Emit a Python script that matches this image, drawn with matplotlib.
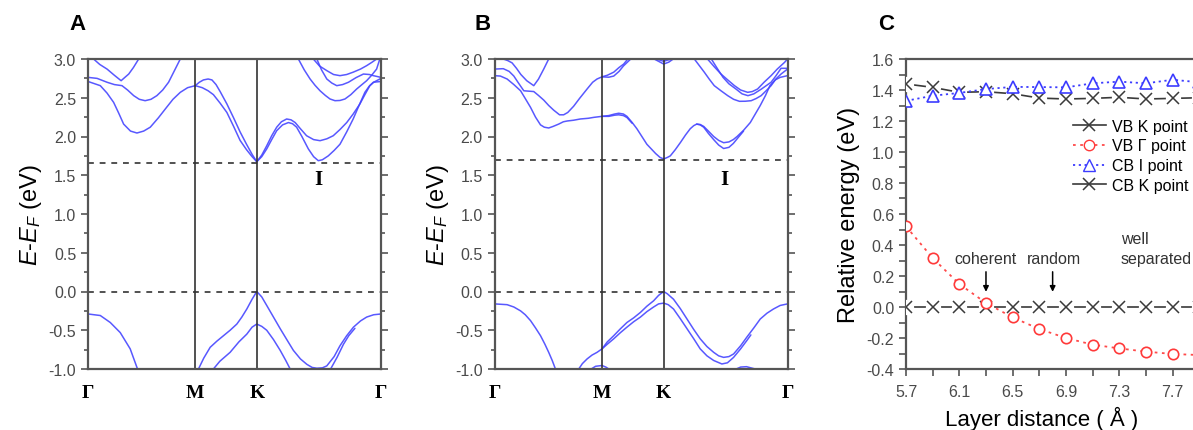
import matplotlib
matplotlib.use('Agg')
import matplotlib.pyplot as plt
from matplotlib.lines import Line2D
from matplotlib.ticker import MultipleLocator, FormatStrFormatter

plt.rcParams['font.family'] = ['Liberation Sans', 'DejaVu Sans']
plt.rcParams['mathtext.fontset'] = 'custom'
plt.rcParams['mathtext.rm'] = 'Liberation Sans'
plt.rcParams['mathtext.it'] = 'Liberation Sans:italic'

# high-symmetry points (fraction of path length)
kpts = [0.0, 0.366, 0.577, 1.0]
klabels = ['Γ', 'M', 'K', 'Γ']

# ---- panel A bands, (k, E) ----
a_vb1 = [(0, -0.29), (0.042, -0.31), (0.076, -0.40), (0.110, -0.53), (0.144, -0.74), (0.169, -1.0)]
a_vb2 = [(0.377, -1.0), (0.395, -0.86), (0.417, -0.72), (0.44, -0.64), (0.4625, -0.57), (0.485, -0.50),
         (0.508, -0.42), (0.525, -0.33), (0.542, -0.226), (0.56, -0.10), (0.576, 0.0), (0.593, -0.07),
         (0.610, -0.18), (0.633, -0.33), (0.656, -0.48), (0.68, -0.63), (0.701, -0.76), (0.725, -0.87),
         (0.747, -0.94), (0.765, -0.98), (0.781, -0.99), (0.80, -0.985), (0.815, -0.96), (0.84, -0.84),
         (0.860, -0.70), (0.883, -0.57), (0.906, -0.46), (0.93, -0.38), (0.951, -0.33), (0.975, -0.30),
         (1.0, -0.29)]
a_vb3 = [(0.828, -1.0), (0.85, -0.85), (0.872, -0.68), (0.89, -0.57), (0.911, -0.475)]
a_vb4 = [(0.428, -1.0), (0.45, -0.9), (0.485, -0.785), (0.515, -0.65), (0.542, -0.55), (0.56, -0.46),
         (0.576, -0.42), (0.593, -0.45), (0.61, -0.50), (0.633, -0.62), (0.656, -0.76), (0.675, -0.89),
         (0.69, -1.0)]
a_cb1 = [(0, 2.71), (0.042, 2.656), (0.065, 2.56), (0.0875, 2.44), (0.105, 2.30), (0.1216, 2.16),
         (0.145, 2.07), (0.167, 2.045), (0.19, 2.07), (0.2125, 2.12), (0.24, 2.24), (0.269, 2.38),
         (0.29, 2.48), (0.315, 2.57), (0.34, 2.63), (0.366, 2.656)]
a_cb2 = [(0, 2.763), (0.031, 2.75), (0.065, 2.70), (0.09, 2.67), (0.116, 2.656), (0.135, 2.60),
         (0.156, 2.527), (0.175, 2.48), (0.195, 2.462), (0.215, 2.48), (0.235, 2.527), (0.255, 2.60),
         (0.275, 2.70), (0.295, 2.85), (0.315, 3.0)]
a_cb3 = [(0.019, 3.0), (0.04, 2.93), (0.065, 2.87), (0.09, 2.79), (0.113, 2.72), (0.125, 2.76),
         (0.139, 2.806), (0.155, 2.89), (0.173, 3.0)]
a_cb4 = [(0.366, 2.656), (0.38, 2.70), (0.394, 2.73), (0.41, 2.742), (0.423, 2.73), (0.437, 2.67),
         (0.451, 2.58), (0.474, 2.42), (0.497, 2.24), (0.519, 2.06), (0.541, 1.90), (0.56, 1.77),
         (0.576, 1.675)]
a_cb5 = [(0.366, 2.656), (0.39, 2.63), (0.41, 2.59), (0.428, 2.54), (0.451, 2.43), (0.474, 2.31),
         (0.497, 2.13), (0.519, 1.95), (0.541, 1.83), (0.56, 1.74), (0.576, 1.675)]
a_cb6 = [(0.576, 1.675), (0.593, 1.76), (0.610, 1.88), (0.627, 2.01), (0.644, 2.12), (0.66, 2.19),
         (0.678, 2.226), (0.693, 2.215), (0.707, 2.18), (0.725, 2.10), (0.746, 2.01), (0.77, 1.96),
         (0.792, 1.946), (0.815, 1.97), (0.837, 2.01), (0.86, 2.09), (0.883, 2.18), (0.905, 2.29),
         (0.928, 2.42), (0.945, 2.54), (0.962, 2.656), (0.975, 2.70), (0.985, 2.72), (1.0, 2.75)]
a_cb7 = [(0.576, 1.675), (0.593, 1.74), (0.610, 1.84), (0.627, 1.96), (0.644, 2.075), (0.664, 2.15),
         (0.684, 2.18), (0.698, 2.165), (0.712, 2.12), (0.73, 2.0), (0.752, 1.84), (0.77, 1.74),
         (0.786, 1.688), (0.80, 1.70), (0.820, 1.75), (0.84, 1.82), (0.860, 1.90), (0.883, 2.06),
         (0.905, 2.226), (0.925, 2.40), (0.945, 2.57), (0.96, 2.65), (0.974, 2.70), (1.0, 2.71)]
a_cb8 = [(0.718, 3.0), (0.738, 2.86), (0.758, 2.742), (0.775, 2.66), (0.792, 2.59), (0.81, 2.53),
         (0.826, 2.484), (0.843, 2.462), (0.86, 2.465), (0.877, 2.484), (0.897, 2.54), (0.917, 2.613),
         (0.935, 2.67), (0.951, 2.72), (0.968, 2.79), (0.985, 2.87), (0.996, 3.0)]
a_cb9 = [(0.769, 3.0), (0.79, 2.91), (0.815, 2.85), (0.838, 2.80), (0.860, 2.785), (0.883, 2.80),
         (0.905, 2.83), (0.93, 2.87), (0.951, 2.914), (0.97, 2.96), (0.985, 3.0)]
a_cb10 = [(0.781, 3.0), (0.797, 2.86), (0.815, 2.742), (0.832, 2.69), (0.849, 2.656), (0.869, 2.67),
          (0.889, 2.70), (0.915, 2.76), (0.940, 2.806), (0.96, 2.80), (0.974, 2.785), (1.0, 2.763)]

# ---- panel B bands ----
b_vb1 = [(0, -0.16), (0.043, -0.17), (0.066, -0.20), (0.089, -0.25), (0.105, -0.30), (0.123, -0.376),
         (0.14, -0.47), (0.157, -0.57), (0.172, -0.68), (0.185, -0.785), (0.197, -0.89), (0.208, -1.0)]
b_vb2 = [(0.2875, -1.0), (0.30, -0.93), (0.316, -0.87), (0.333, -0.82), (0.35, -0.785), (0.367, -0.74),
         (0.385, -0.65), (0.407, -0.57), (0.43, -0.48), (0.452, -0.40), (0.475, -0.34), (0.498, -0.27),
         (0.52, -0.19), (0.543, -0.12), (0.56, -0.05), (0.5775, 0.0), (0.59, -0.03), (0.611, -0.10),
         (0.634, -0.22), (0.657, -0.355), (0.68, -0.49), (0.702, -0.61), (0.725, -0.71), (0.748, -0.785),
         (0.765, -0.83), (0.782, -0.85), (0.80, -0.84), (0.816, -0.806), (0.84, -0.70), (0.861, -0.59),
         (0.885, -0.47), (0.907, -0.355), (0.93, -0.28), (0.952, -0.226), (0.975, -0.18), (1.0, -0.16)]
b_vb3 = [(0.367, -0.74), (0.385, -0.68), (0.407, -0.61), (0.43, -0.53), (0.452, -0.46), (0.475, -0.39),
         (0.498, -0.33), (0.52, -0.26), (0.543, -0.20), (0.56, -0.16), (0.5775, -0.15), (0.593, -0.17),
         (0.611, -0.226), (0.634, -0.35), (0.657, -0.48), (0.68, -0.61), (0.702, -0.74), (0.725, -0.83),
         (0.748, -0.89), (0.776, -0.935), (0.795, -0.92), (0.816, -0.85), (0.84, -0.74), (0.861, -0.634),
         (0.875, -0.56)]
b_vb4 = [(0.33, -1.0), (0.345, -0.965), (0.367, -0.955), (0.38, -0.975), (0.39, -1.0)]
b_vb5 = [(0.825, -1.0), (0.84, -0.975), (0.86, -0.97), (0.875, -0.985), (0.89, -1.0)]
b_cb1 = [(0, 2.785), (0.02, 2.78), (0.043, 2.742), (0.066, 2.67), (0.089, 2.59), (0.105, 2.49),
         (0.123, 2.376), (0.14, 2.25), (0.157, 2.15), (0.17, 2.12), (0.185, 2.11), (0.20, 2.13),
         (0.219, 2.16), (0.235, 2.19), (0.248, 2.20), (0.27, 2.21), (0.293, 2.226), (0.32, 2.235),
         (0.339, 2.247), (0.367, 2.26), (0.39, 2.27), (0.41, 2.29), (0.424, 2.30), (0.44, 2.29),
         (0.452, 2.26), (0.47, 2.18), (0.486, 2.10), (0.503, 2.00), (0.52, 1.90), (0.535, 1.84),
         (0.55, 1.78), (0.565, 1.73), (0.5775, 1.71)]
b_cb1b = [(0.367, 2.26), (0.39, 2.26), (0.41, 2.275), (0.424, 2.28), (0.44, 2.27), (0.452, 2.245),
          (0.47, 2.17)]
b_cb2 = [(0, 2.87), (0.03, 2.875), (0.05, 2.84), (0.066, 2.78), (0.08, 2.70), (0.10, 2.59),
         (0.134, 2.58), (0.15, 2.53), (0.168, 2.47), (0.185, 2.40), (0.202, 2.34), (0.222, 2.28),
         (0.236, 2.28), (0.25, 2.31), (0.27, 2.39), (0.29, 2.49), (0.316, 2.613), (0.335, 2.70),
         (0.35, 2.742), (0.367, 2.77), (0.385, 2.79), (0.407, 2.83), (0.425, 2.89), (0.441, 2.935),
         (0.455, 3.0)]
b_cb2b = [(0.367, 2.77), (0.39, 2.765), (0.407, 2.78), (0.425, 2.84), (0.44, 2.91), (0.465, 3.0)]
b_cb3 = [(0.03, 3.0), (0.045, 2.98), (0.06, 2.95), (0.075, 2.88), (0.09, 2.80), (0.11, 2.72),
         (0.134, 2.656), (0.15, 2.74), (0.168, 2.87), (0.185, 3.0)]
b_cb4 = [(0.5775, 1.71), (0.59, 1.73), (0.60, 1.75), (0.617, 1.83), (0.635, 1.925), (0.652, 2.02),
         (0.668, 2.10), (0.68, 2.14), (0.69, 2.16), (0.702, 2.155), (0.714, 2.13), (0.73, 2.07),
         (0.748, 2.0), (0.765, 1.95), (0.782, 1.92), (0.80, 1.93), (0.815, 1.96), (0.828, 2.0),
         (0.85, 2.08), (0.873, 2.18), (0.89, 2.29), (0.907, 2.40), (0.925, 2.53), (0.94, 2.656),
         (0.958, 2.73), (0.975, 2.763), (1.0, 2.785)]
b_cb5 = [(0.69, 2.16), (0.702, 2.15), (0.714, 2.12), (0.73, 2.04), (0.748, 1.96), (0.765, 1.89),
         (0.782, 1.845), (0.80, 1.86), (0.815, 1.91), (0.828, 1.97), (0.85, 2.07)]
b_cb6 = [(0.682, 3.0), (0.70, 2.91), (0.716, 2.83), (0.733, 2.74), (0.75, 2.656), (0.773, 2.59),
         (0.796, 2.527), (0.816, 2.48), (0.836, 2.454), (0.856, 2.455), (0.876, 2.462), (0.893, 2.49),
         (0.91, 2.527), (0.927, 2.59), (0.944, 2.656), (0.96, 2.74), (0.978, 2.806), (1.0, 2.87)]
b_cb7 = [(0.727, 3.0), (0.75, 2.90), (0.773, 2.806), (0.796, 2.73), (0.819, 2.656), (0.84, 2.60),
         (0.864, 2.57), (0.88, 2.58), (0.898, 2.613), (0.92, 2.70), (0.944, 2.785), (0.965, 2.87),
         (0.99, 2.957), (1.0, 3.0)]
b_cb8 = [(0.74, 3.0), (0.76, 2.88), (0.78, 2.763), (0.80, 2.68), (0.825, 2.61), (0.845, 2.55),
         (0.865, 2.527), (0.885, 2.55), (0.91, 2.61), (0.944, 2.70), (0.96, 2.78), (0.978, 2.88),
         (1.0, 2.88)]
b_cb9 = [(0.545, 3.0), (0.56, 2.97), (0.5775, 2.935), (0.595, 2.96), (0.61, 3.0)]
b_cb10 = [(0.55, 3.0), (0.565, 2.985), (0.5775, 2.97), (0.59, 2.985), (0.605, 3.0)]

a_gap = 1.66   # CBM level in A
b_gap = 1.70   # CBM level in B

# ---- panel C ----
layer_d = [5.7, 5.9, 6.1, 6.3, 6.5, 6.7, 6.9, 7.1, 7.3, 7.5, 7.7, 7.9]
vb_k = [0.0] * 12
vb_gamma = [0.52, 0.316, 0.148, 0.026, -0.067, -0.142, -0.20, -0.243, -0.267, -0.288, -0.303, -0.31]
cb_i = [1.33, 1.363, 1.381, 1.406, 1.42, 1.419, 1.417, 1.443, 1.454, 1.443, 1.466, 1.45]
cb_k = [1.439, 1.417, 1.385, 1.389, 1.376, 1.348, 1.342, 1.346, 1.353, 1.342, 1.346, 1.35]
c_xticks = [5.7, 6.1, 6.5, 6.9, 7.3, 7.7, 8.1]

W, H = 1193, 431
fig = plt.figure(figsize=(W / 100, H / 100), dpi=100)

blue = '#4646ff'
dark = '#333333'
tick_c = '#4a4a4a'


def px(l, b, w, h):
    return [l / W, 1 - (b + h) / H, w / W, h / H]


def band_panel(ax, bands, gap):
    for band in bands:
        ks = [p[0] for p in band]
        es = [p[1] for p in band]
        ax.plot(ks, es, color=blue, lw=1.1, alpha=0.9, solid_capstyle='round')
    for k in kpts[1:3]:
        ax.axvline(k, color=dark, lw=1.2)
    for e in (0.0, gap):
        ax.axhline(e, color=dark, lw=1.2, ls=(0, (3.5, 3.5)))
    ax.set_xlim(0, 1)
    ax.set_ylim(-1, 3)
    ax.set_xticks(kpts)
    ax.set_xticklabels(klabels, family='Liberation Serif', fontweight='bold', fontsize=14)
    ax.tick_params(axis='x', length=0, pad=11, colors='black')
    ax.yaxis.set_major_locator(MultipleLocator(0.5))
    ax.yaxis.set_minor_locator(MultipleLocator(0.25))
    ax.yaxis.set_major_formatter(FormatStrFormatter('%.1f'))
    ax.tick_params(axis='y', which='both', direction='out', right=True, color='#555555',
                   labelsize=11.5, labelcolor=tick_c, width=1.2)
    ax.tick_params(axis='y', which='major', length=5)
    ax.tick_params(axis='y', which='minor', length=3)
    for s in ax.spines.values():
        s.set_color('#555555')
        s.set_linewidth(1.6)
    ax.set_ylabel(r'$E$-$E_F$ (eV)', fontsize=17, labelpad=3)
    ax.text(0.785, 1.45, 'I', family='Liberation Serif', fontweight='bold', fontsize=15,
            ha='center', va='center')


ax_a = fig.add_axes(px(88, 60, 293, 310))
band_panel(ax_a, [a_vb1, a_vb2, a_vb3, a_vb4, a_cb1, a_cb2, a_cb3, a_cb4, a_cb5, a_cb6,
                  a_cb7, a_cb8, a_cb9, a_cb10], a_gap)
ax_b = fig.add_axes(px(494.5, 60, 293, 310))
band_panel(ax_b, [b_vb1, b_vb2, b_vb3, b_vb4, b_vb5, b_cb1, b_cb1b, b_cb2, b_cb2b, b_cb3,
                  b_cb4, b_cb5, b_cb6, b_cb7, b_cb8, b_cb9, b_cb10], b_gap)

# panel C, its right side runs off the figure like in the original
x_per = 133.3   # pixels per Angstrom
ax_c = fig.add_axes(px(906, 60, 2.6 * x_per, 310))
gray = '#3a3a3a'
for ys in (vb_k, cb_k):
    ax_c.plot(layer_d, ys, '-', color=gray, lw=1.2, zorder=2)
    ax_c.plot(layer_d, ys, 'o', ms=11, mfc='white', mec='none', zorder=3)
    ax_c.plot(layer_d, ys, 'x', ms=8, mew=1.1, color=gray, zorder=4)
ax_c.plot(layer_d, vb_gamma, ls=(0, (1.5, 2.5)), color='#ff4a4a', lw=1.3, marker='o', ms=7.5,
          mfc='white', mec='#ff3a3a', mew=1.2, zorder=5)
ax_c.plot(layer_d, cb_i, ls=(0, (1.2, 2.0)), color='#3c3cff', lw=1.3, marker='^', ms=8,
          mfc='white', mec='#3c3cff', mew=1.2, zorder=5)

ax_c.set_xlim(5.7, 8.3)
ax_c.set_ylim(-0.4, 1.6)
ax_c.set_xticks(c_xticks)
# the last label would fall past the edge of the picture
ax_c.set_xticklabels(['%.1f' % v for v in c_xticks[:-1]] + [''])
ax_c.set_xticks([5.9, 6.3, 6.7, 7.1, 7.5, 7.9], minor=True)
ax_c.yaxis.set_major_locator(MultipleLocator(0.2))
ax_c.yaxis.set_minor_locator(MultipleLocator(0.1))
ax_c.yaxis.set_major_formatter(FormatStrFormatter('%.1f'))
ax_c.tick_params(which='both', direction='out', color='#555555', labelsize=11.5,
                 labelcolor=tick_c, width=1.2)
ax_c.tick_params(which='major', length=5)
ax_c.tick_params(which='minor', length=5)
ax_c.tick_params(axis='x', pad=6)
for s in ax_c.spines.values():
    s.set_color('#555555')
    s.set_linewidth(1.6)
ax_c.set_ylabel('Relative energy (eV)', fontsize=17, labelpad=5)
ax_c.set_xlabel('Layer distance ( Å )', fontsize=16)
ax_c.xaxis.set_label_coords((1042 - 906) / (2.6 * x_per), -(407 - 370) / 310)

handles = [
    Line2D([], [], color=gray, lw=1.2, marker='x', ms=8, mew=1.1),
    Line2D([], [], color='#ff4a4a', lw=1.3, ls=(0, (1.5, 2.5)), marker='o', ms=7.5, mfc='white',
           mec='#ff3a3a'),
    Line2D([], [], color='#3c3cff', lw=1.3, ls=(0, (1.2, 2.0)), marker='^', ms=8, mfc='white',
           mec='#3c3cff'),
    Line2D([], [], color=gray, lw=1.2, marker='x', ms=8, mew=1.1),
]
ax_c.legend(handles, ['VB K point', 'VB Γ point', 'CB I point', 'CB K point'],
            loc='upper left', bbox_to_anchor=(6.95, 1.215), bbox_transform=ax_c.transData,
            frameon=False, fontsize=11.5, handlelength=2.1, handletextpad=0.35,
            labelspacing=0.3, borderpad=0, borderaxespad=0)

ann = dict(fontsize=11.5, color=dark)
ax_c.text(6.3, 0.31, 'coherent', ha='center', va='center', **ann)
ax_c.text(6.81, 0.31, 'random', ha='center', va='center', **ann)
ax_c.text(7.31, 0.445, 'well', ha='left', va='center', **ann)
ax_c.text(7.31, 0.31, 'separated', ha='left', va='center', **ann)
arrow = dict(arrowstyle='-|>', color='black', lw=1.1, mutation_scale=8)
ax_c.annotate('', xy=(6.3, 0.08), xytext=(6.3, 0.245), arrowprops=arrow)
ax_c.annotate('', xy=(6.8, 0.08), xytext=(6.8, 0.245), arrowprops=arrow)
ax_c.annotate('', xy=(7.88, 0.15), xytext=(7.88, 0.245), arrowprops=arrow)

for lab, x in (('A', 77), ('B', 483), ('C', 886)):
    fig.text(x / W, 1 - 24 / H, lab, fontsize=16, fontweight='bold', ha='center', va='center')

fig.savefig('out.png', dpi=100)
